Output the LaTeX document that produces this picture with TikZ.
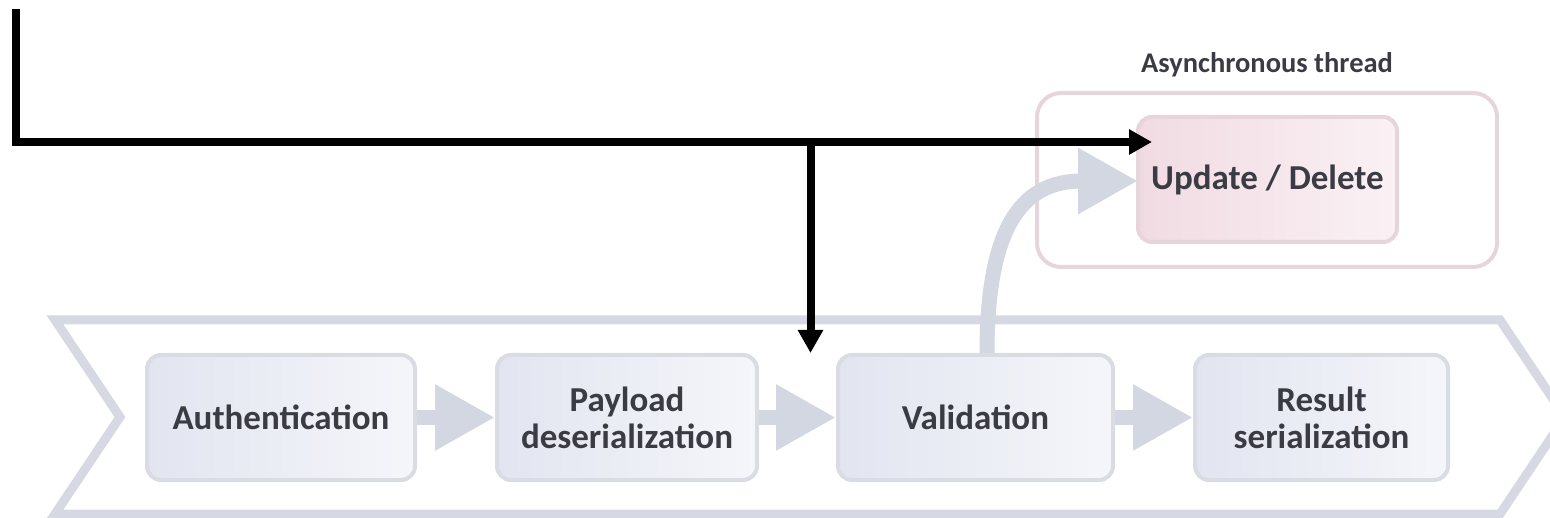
\documentclass[tikz,border=0pt]{standalone}
\usepackage{fontspec}
\setmainfont{Carlito}
\usetikzlibrary{arrows.meta}

\definecolor{bandgray}{HTML}{D6D9E3}
\definecolor{boxline}{HTML}{DADCE3}
\definecolor{boxfillL}{HTML}{E2E5F0}
\definecolor{boxfillR}{HTML}{F5F6FA}
\definecolor{pinkline}{HTML}{E7D5DC}
\definecolor{pinkfillL}{HTML}{F1DBE3}
\definecolor{pinkfillR}{HTML}{FAF1F4}
\definecolor{labeltext}{HTML}{3B3C43}
\definecolor{flowgray}{HTML}{D3D7E1}

\begin{document}
\begin{tikzpicture}[x=1pt,y=-1pt,
  stage/.style={draw=boxline, line width=4pt, rounded corners=14pt,
    left color=boxfillL, right color=boxfillR,
    minimum width=#1, minimum height=125pt, inner sep=0pt, align=center,
    font=\fontsize{35}{37}\selectfont\bfseries, text=labeltext},
  asyncbox/.style={stage=#1, draw=pinkline, left color=pinkfillL, right color=pinkfillR},
  frame/.style={draw=pinkline, line width=4pt, rounded corners=24pt,
    minimum width=460pt, minimum height=174pt, inner sep=0pt},
  flow/.style={draw=flowgray, line width=15pt,
    -{Triangle[length=60pt,width=62pt]}},
  blackflow/.style={draw=black, line width=8pt, line join=miter,
    -{Triangle[length=23pt,width=24pt]}},
  caption/.style={font=\fontsize{28.5}{32}\selectfont\bfseries, text=labeltext}
]
\useasboundingbox (0,0) rectangle (1550,518);

% pipeline band (chevron)
\draw[bandgray, line width=9pt, line join=miter]
  (55,320) -- (1500,320) -- (1565,417) -- (1500,514) -- (55,514) -- (120,417) -- cycle;

% asynchronous thread frame and its title
\node[frame] (thread) at (1267,180) {};
\node[caption] (threadtitle) at (1267,65) {Asynchronous thread};

% pipeline stages
\node[stage=268pt] (auth)    at (281,417.5)   {Authentication};
\node[stage=260pt] (payload) at (627,417.5)   {Payload\\deserialization};
\node[stage=275pt] (valid)   at (975.5,417.5) {Validation};
\node[stage=253pt] (result)  at (1321.5,417.5) {Result\\serialization};
\node[asyncbox=259pt] (update) at (1267.5,179.5) {Update / Delete};

% flow between stages
\draw[flow] (auth.east) -- (payload.west);
\draw[flow] (payload.east) -- (valid.west);
\draw[flow] (valid.east) -- (result.west);
\draw[flow] ([xshift=11.5pt]valid.north) .. controls (987,230) and (1020,181) .. ([xshift=2pt,yshift=-1.5pt]update.west);

% black connectors
\coordinate (origin) at (16,9);
\coordinate (fork) at (810.5,142);
\coordinate (toupdate) at (1152,142);
\coordinate (intopipe) at (810.5,353);
\draw[blackflow] (origin) |- (toupdate);
\draw[blackflow] (fork) -- (intopipe);
\end{tikzpicture}
\end{document}
